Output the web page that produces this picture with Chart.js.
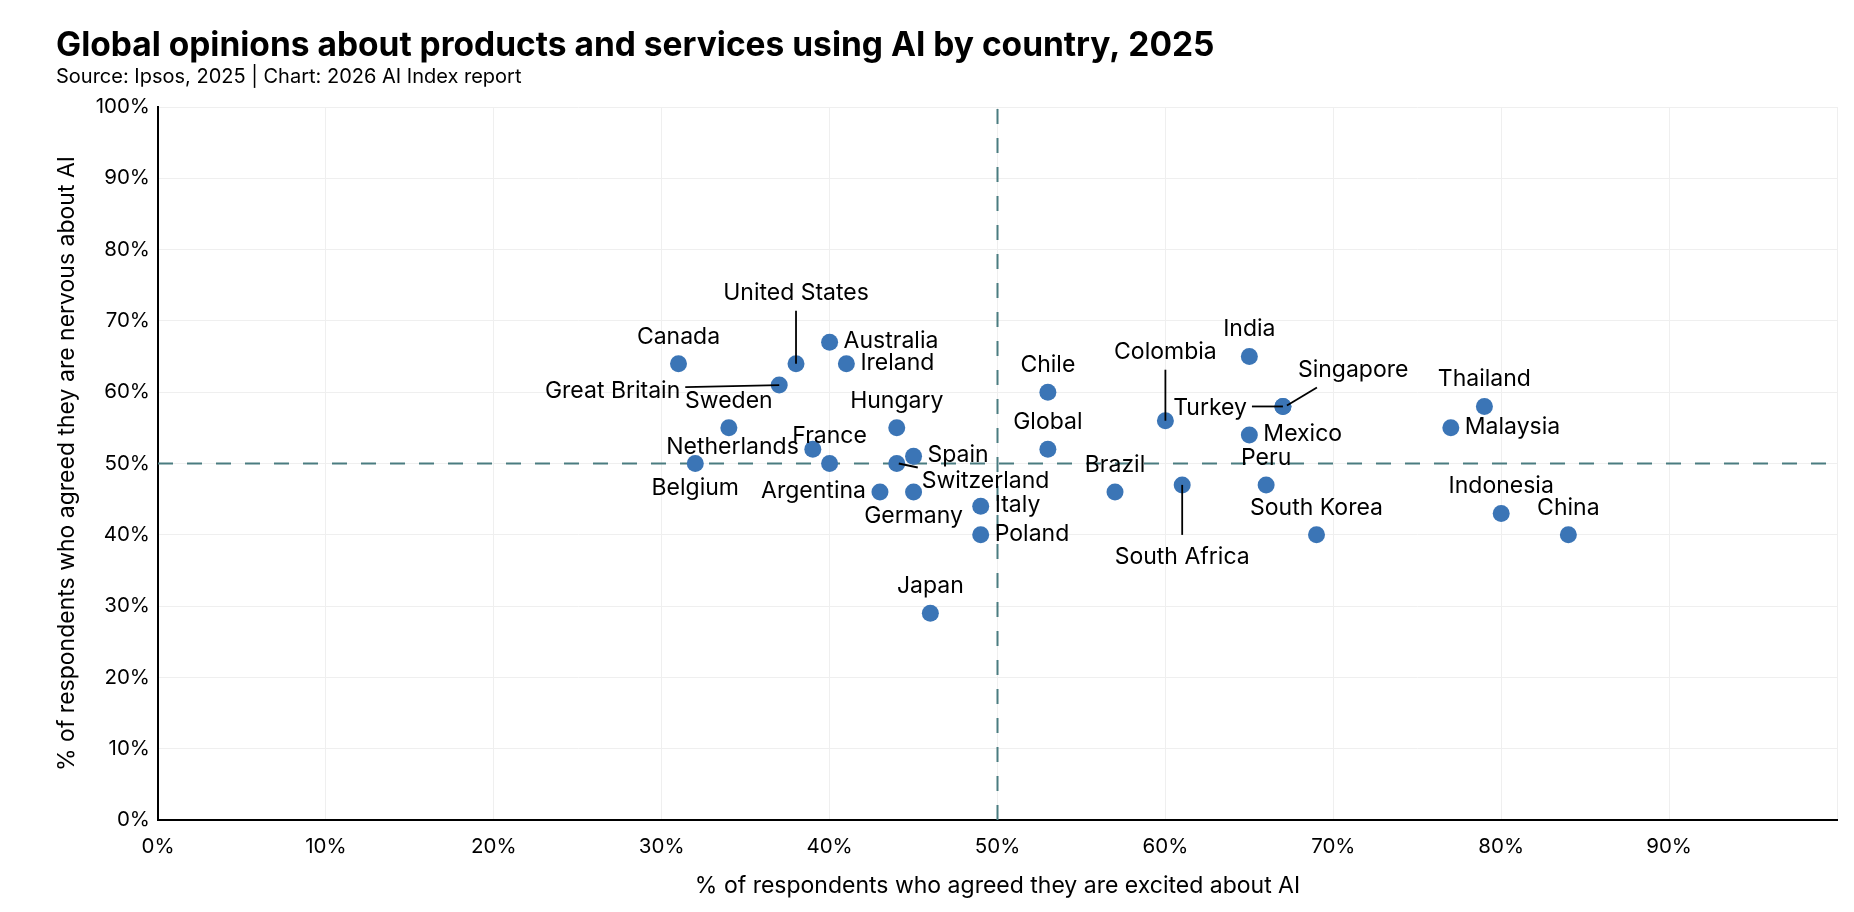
<!DOCTYPE html>
<html>
<head>
<meta charset="utf-8">
<title>Global opinions about products and services using AI by country, 2025</title>
<script src="https://cdn.jsdelivr.net/npm/chart.js@4"></script>
<style>
  html, body { margin: 0; padding: 0; background: #fff; }
  #wrap { width: 1854px; height: 912px; position: relative; }
</style>
</head>
<body>
<div id="wrap"><canvas id="opinionChart"></canvas></div>
<script>
// ===== Data =====
const countries = [
  "Canada", "United States", "Great Britain", "Australia", "Ireland", "Sweden",
  "Netherlands", "France", "Belgium", "Argentina", "Hungary", "Spain",
  "Switzerland", "Germany", "Italy", "Poland", "Japan", "Chile", "Global",
  "Brazil", "Colombia", "South Africa", "India", "Turkey", "Singapore",
  "Mexico", "Peru", "South Korea", "Thailand", "Malaysia", "Indonesia", "China"
];
const excited = [31, 38, 37, 40, 41, 34, 39, 40, 32, 43, 44, 45, 44, 45, 49, 49, 46, 53, 53, 57, 60, 61, 65, 67, 67, 65, 66, 69, 79, 77, 80, 84];
const nervous = [64, 64, 61, 67, 64, 55, 52, 50, 50, 46, 55, 51, 50, 46, 44, 40, 29, 60, 52, 46, 56, 47, 65, 58, 58, 54, 47, 40, 58, 55, 43, 40];
const xTicks = [0, 10, 20, 30, 40, 50, 60, 70, 80, 90];
const yTicks = [0, 10, 20, 30, 40, 50, 60, 70, 80, 90, 100];
const midLevel = [50];

// ===== Label placement (pixels, relative to point) =====
const ABOVE = { dx: 0, dy: -27, align: "center" };
const BELOW = { dx: 0, dy: 25, align: "center" };
const RIGHT = { dx: 14, dy: -1, align: "left" };
const LEFT = { dx: -14, dy: -1, align: "right" };

const placement = {
  "United States": { dx: 0, dy: -71, align: "center", line: [0, -53, 0, 0] },
  "Great Britain": { dx: -99, dy: 6, align: "right", line: [-94, 2, 0, 0] },
  "Australia": RIGHT,
  "Ireland": RIGHT,
  "Netherlands": { dx: -14, dy: -2, align: "right" },
  "Belgium": BELOW,
  "Argentina": LEFT,
  "Spain": RIGHT,
  "Switzerland": { dx: 25, dy: 18, align: "left", line: [2, 0, 21, 4] },
  "Germany": { dx: 0, dy: 24, align: "center" },
  "Italy": RIGHT,
  "Poland": RIGHT,
  "Colombia": { dx: 0, dy: -69, align: "center", line: [0, -51, 0, 0] },
  "South Africa": { dx: 0, dy: 72, align: "center", line: [0, 0, 0, 50] },
  "Turkey": { dx: -36, dy: 2, align: "right", line: [-31, 0, 0, 0] },
  "Singapore": { dx: 15, dy: -36, align: "left", line: [4, -1, 34, -19] },
  "Mexico": RIGHT,
  "Malaysia": RIGHT
};

const FONT = "Inter";

// ===== Labels plugin =====
const countryLabels = {
  id: "countryLabels",
  afterDatasetsDraw(chart) {
    const ctx = chart.ctx;
    const meta = chart.getDatasetMeta(0);
    ctx.save();
    ctx.font = "23px " + FONT;
    ctx.fillStyle = "#000";
    ctx.strokeStyle = "#000";
    ctx.lineWidth = 1.8;
    ctx.textBaseline = "middle";
    meta.data.forEach((pt, i) => {
      const p = placement[countries[i]] || ABOVE;
      if (p.line) {
        ctx.beginPath();
        ctx.moveTo(pt.x + p.line[0], pt.y + p.line[1]);
        ctx.lineTo(pt.x + p.line[2], pt.y + p.line[3]);
        ctx.stroke();
      }
      ctx.textAlign = p.align;
      ctx.fillText(countries[i], pt.x + p.dx, pt.y + p.dy);
    });
    ctx.restore();
  }
};

// ===== Chart =====
Chart.defaults.font.family = FONT;
Chart.defaults.color = "#000";

const points = countries.map((c, i) => ({ x: excited[i], y: nervous[i] }));

new Chart(document.getElementById("opinionChart"), {
  type: "scatter",
  data: {
    datasets: [
      {
        label: "Countries",
        data: points,
        backgroundColor: "#3b75b6",
        borderWidth: 0,
        pointRadius: 8.5,
        pointHoverRadius: 8.5
      },
      {
        label: "Excited 50%",
        data: [{ x: midLevel[0], y: 0 }, { x: midLevel[0], y: 100 }],
        showLine: true,
        borderColor: "#4a7c80",
        borderWidth: 2,
        borderDash: [15, 14],
        pointRadius: 0
      },
      {
        label: "Nervous 50%",
        data: [{ x: 0, y: midLevel[0] }, { x: 100, y: midLevel[0] }],
        showLine: true,
        borderColor: "#4a7c80",
        borderWidth: 2,
        borderDash: [15, 14],
        pointRadius: 0
      }
    ]
  },
  options: {
    responsive: true,
    maintainAspectRatio: false,
    animation: false,
    layout: { padding: { top: 29, left: 56, right: 17, bottom: 0 } },
    plugins: {
      legend: { display: false },
      tooltip: { enabled: false },
      title: {
        display: true,
        align: "start",
        text: "Global opinions about products and services using AI by country, 2025",
        color: "#000",
        font: { family: FONT, size: 33.5, weight: "bold", lineHeight: 1 },
        padding: { top: 0, bottom: 4 }
      },
      subtitle: {
        display: true,
        align: "start",
        text: "Source: Ipsos, 2025 | Chart: 2026 AI Index report",
        color: "#000",
        font: { family: FONT, size: 20, lineHeight: 1 },
        padding: { top: 0, bottom: 20.5 }
      }
    },
    scales: {
      x: {
        type: "linear",
        min: 0,
        max: 100,
        afterBuildTicks: s => { s.ticks = xTicks.concat([100]).map(v => ({ value: v })); },
        ticks: {
          callback: v => (xTicks.includes(v) ? v + "%" : ""),
          padding: 15,
          color: "#000",
          font: { size: 20.5 }
        },
        grid: { color: "#efefef", lineWidth: 1, drawTicks: false },
        border: { color: "#000", width: 2 },
        title: {
          display: true,
          text: "% of respondents who agreed they are excited about AI",
          color: "#000",
          font: { size: 23, lineHeight: 1 },
          padding: { top: 0, bottom: 14 }
        },
        afterFit: s => { s.height = 92; }
      },
      y: {
        type: "linear",
        min: 0,
        max: 100,
        afterBuildTicks: s => { s.ticks = yTicks.map(v => ({ value: v })); },
        ticks: {
          callback: v => v + "%",
          padding: 8,
          color: "#000",
          font: { size: 20.5 }
        },
        grid: { color: "#efefef", lineWidth: 1, drawTicks: false },
        border: { color: "#000", width: 2 },
        title: {
          display: true,
          text: "% of respondents who agreed they are nervous about AI",
          color: "#000",
          font: { size: 23, lineHeight: 1 },
          padding: { top: 0, bottom: 0 }
        },
        afterFit: s => { s.width = 102; }
      }
    }
  },
  plugins: [countryLabels]
});
</script>
</body>
</html>
